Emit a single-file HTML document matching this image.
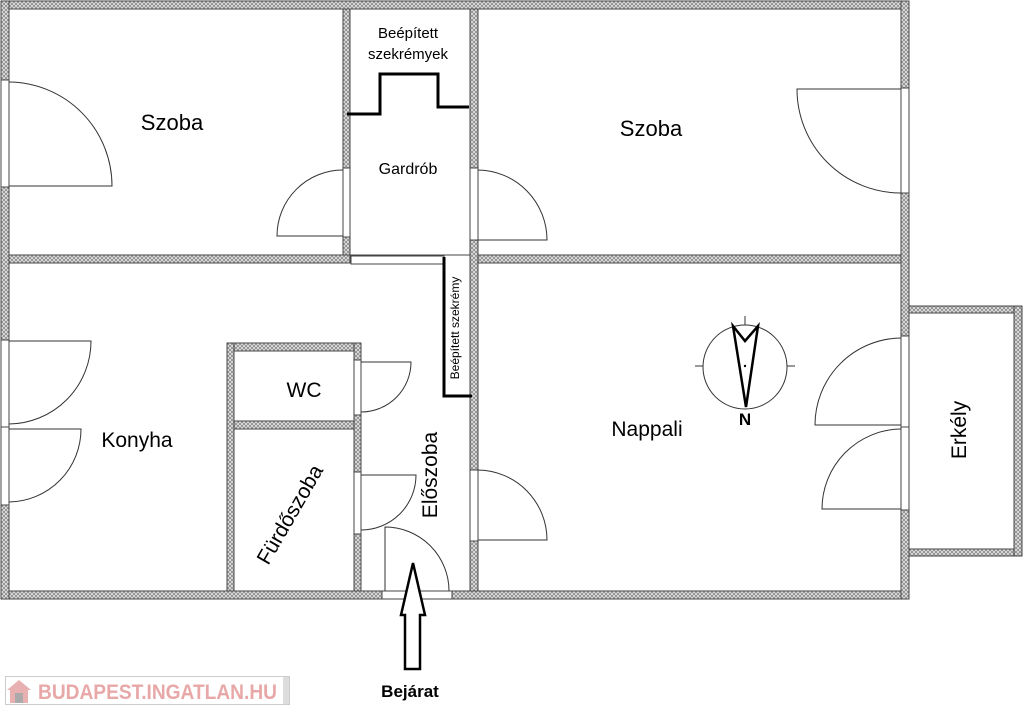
<!DOCTYPE html>
<html><head><meta charset="utf-8"><style>
html,body{margin:0;padding:0;background:#fff;width:1024px;height:711px;overflow:hidden}
svg{display:block}
text{font-family:"Liberation Sans","DejaVu Sans",sans-serif;fill:#000}
</style></head><body>
<svg width="1024" height="711" viewBox="0 0 1024 711" xmlns="http://www.w3.org/2000/svg">
<defs>
<pattern id="h" width="4" height="4" patternUnits="userSpaceOnUse">
<rect width="4" height="4" fill="#e6e6e6"/>
<path d="M0 0L4 4M4 0L0 4" stroke="#888" stroke-width="0.8"/>
</pattern>
</defs>
<g fill="url(#h)" stroke="#444" stroke-width="1">
<!-- outer walls -->
<rect x="1" y="1" width="908" height="8"/>
<rect x="1" y="591" width="908" height="8"/>
<rect x="1" y="1" width="8" height="598"/>
<rect x="901" y="1" width="8" height="598"/>
<!-- middle horizontal -->
<rect x="9" y="255" width="341" height="8"/>
<rect x="470" y="255" width="431" height="8"/>
<!-- verticals -->
<rect x="343" y="9" width="7" height="246"/>
<rect x="470" y="9" width="8" height="582"/>
<!-- bathroom block -->
<rect x="227" y="343" width="134" height="8"/>
<rect x="227" y="343" width="7" height="248"/>
<rect x="354" y="343" width="7" height="248"/>
<rect x="234" y="421" width="120" height="8"/>
<!-- balcony -->
<rect x="909" y="306" width="113" height="7"/>
<rect x="909" y="549" width="113" height="7"/>
<rect x="1014" y="306" width="8" height="250"/>
</g>
<!-- inner wall lines cleanup -->
<g fill="none" stroke="#444" stroke-width="1">
<rect x="9" y="9" width="334" height="246"/>
<rect x="350" y="9" width="120" height="246"/>
<rect x="478" y="9" width="423" height="246"/>
<rect x="234" y="351" width="120" height="70"/>
<rect x="234" y="429" width="120" height="162"/>
</g>
<!-- openings -->
<g fill="#fff" stroke="#444" stroke-width="1">
<rect x="1" y="80" width="8" height="107"/>
<rect x="343" y="168" width="7" height="69"/>
<rect x="470" y="168" width="8" height="72"/>
<rect x="901" y="88" width="8" height="105"/>
<rect x="1" y="340" width="8" height="165"/>
<line x1="1" y1="427" x2="9" y2="427"/>
<rect x="901" y="336" width="8" height="174"/>
<line x1="901" y1="427" x2="909" y2="427"/>
<rect x="470" y="470" width="8" height="71"/>
<rect x="354" y="360" width="7" height="55"/>
<rect x="354" y="472" width="7" height="62"/>
<rect x="382" y="591" width="70" height="8"/>
<rect x="351" y="256" width="93" height="8"/>
</g>
<!-- doors -->
<g fill="none" stroke="#333" stroke-width="1">
<path d="M9 186H112A104 104 0 0 0 9 82"/>
<path d="M343 236H277A66 66 0 0 1 343 170"/>
<path d="M478 240H547A70 70 0 0 0 478 170"/>
<path d="M901 89H797A104 104 0 0 0 901 193"/>
<path d="M9 341H91A83 83 0 0 1 9 424"/>
<path d="M9 429H81A73 73 0 0 1 9 502"/>
<path d="M901 425H815A87 87 0 0 1 901 338"/>
<path d="M901 509H822A80 80 0 0 1 901 429"/>
<path d="M478 540H547A70 70 0 0 0 478 470"/>
<path d="M361 362H411A50 50 0 0 1 361 412"/>
<path d="M361 475H416A55 55 0 0 1 361 530"/>
<path d="M385 591V527A64 64 0 0 1 449 591"/>
</g>
<!-- cabinets -->
<g fill="none" stroke="#000" stroke-width="3">
<path d="M347 114H380V74H438V107H469"/>
<path d="M444 257V396H472"/>
</g>
<!-- compass -->
<g fill="none" stroke="#333" stroke-width="1">
<circle cx="745" cy="367" r="42"/>
<path d="M745 316V325M695 366H703M787 366H795"/>
</g>
<path d="M733 326L745 341L758 326L746 407Z" fill="none" stroke="#000" stroke-width="2.5" stroke-linejoin="miter"/>
<circle cx="745" cy="366" r="1.2" fill="#000"/>
<text x="745" y="425" font-size="17" text-anchor="middle" font-weight="bold">N</text>
<!-- entrance arrow -->
<path d="M413 563L425 615H420V669H405V615H401Z" fill="#fff" stroke="#000" stroke-width="2.5" stroke-linejoin="miter"/>
<text x="410" y="697" font-size="17" font-weight="bold" text-anchor="middle">Bejárat</text>
<!-- labels -->
<text x="172" y="130" font-size="22" text-anchor="middle">Szoba</text>
<text x="651" y="136" font-size="22" text-anchor="middle">Szoba</text>
<text x="408" y="38" font-size="15" text-anchor="middle">Beépített</text>
<text x="408" y="59" font-size="15" text-anchor="middle">szekrémyek</text>
<text x="408" y="174" font-size="16" text-anchor="middle">Gardrób</text>
<text x="304" y="397" font-size="21" text-anchor="middle">WC</text>
<text x="137" y="447" font-size="21" text-anchor="middle">Konyha</text>
<text x="647" y="436" font-size="21" text-anchor="middle">Nappali</text>
<text transform="translate(459,328) rotate(-90)" font-size="12" text-anchor="middle">Beépített szekrémy</text>
<text transform="translate(437,475) rotate(-90)" font-size="21" text-anchor="middle">Előszoba</text>
<text transform="translate(296,518) rotate(-60)" font-size="21" text-anchor="middle">Fürdőszoba</text>
<text transform="translate(966,430) rotate(-90)" font-size="21" text-anchor="middle">Erkély</text>
<!-- watermark -->
<rect x="5.5" y="676.5" width="284" height="28" fill="#fff" stroke="#ccc" stroke-width="1"/>
<rect x="283" y="677" width="6" height="27" fill="#ddd"/>
<path d="M7 690L19 680L31 690Z" fill="#e8b0b0"/>
<rect x="10" y="690" width="18" height="13" fill="#e8b0b0"/>
<rect x="15" y="693" width="8" height="10" fill="#aaa"/>
<text x="38" y="699" font-size="21" font-weight="bold" fill="#e8a8a8" style="fill:#e8a8a8" textLength="239" lengthAdjust="spacingAndGlyphs">BUDAPEST.INGATLAN.HU</text>
</svg>
</body></html>
